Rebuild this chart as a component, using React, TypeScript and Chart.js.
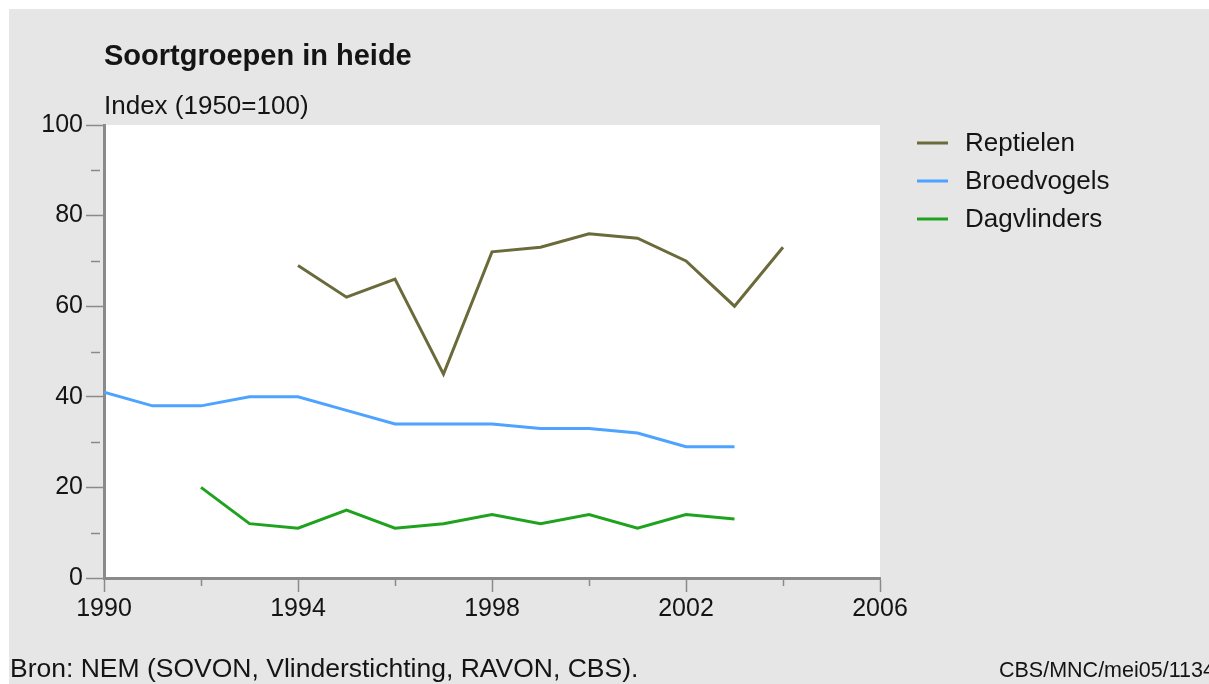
import React, { useEffect, useRef } from "react";
import { Chart, registerables } from "chart.js";

Chart.register(...registerables);

const years = [1990, 1991, 1992, 1993, 1994, 1995, 1996, 1997, 1998, 1999, 2000, 2001, 2002, 2003, 2004];
const reptielen = [null, null, null, null, 69, 62, 66, 45, 72, 73, 76, 75, 70, 60, 73];
const broedvogels = [41, 38, 38, 40, 40, 37, 34, 34, 34, 33, 33, 32, 29, 29, null];
const dagvlinders = [null, null, 20, 12, 11, 15, 11, 12, 14, 12, 14, 11, 14, 13, null];
const seriesLabels = ["Reptielen", "Broedvogels", "Dagvlinders"];
const seriesColors = ["#6b6a3b", "#4da3ff", "#1fa31f"];
const xMajorTicks = [1990, 1994, 1998, 2002, 2006];
const xMinorTicks = [1992, 1996, 2000, 2004];
const yMajorTicks = [0, 20, 40, 60, 80, 100];
const yMinorTicks = [10, 30, 50, 70, 90];

const FONT = '"Liberation Sans", Arial, Helvetica, sans-serif';
const AXIS_COLOR = "#8a8a8a";
const TEXT_COLOR = "#141414";

const toPoints = (vals: (number | null)[]) => years.map((x, i) => ({ x, y: vals[i] }));

const plotBgPlugin = {
  id: "plotBg",
  beforeDraw(chart: any) {
    const { ctx, chartArea } = chart;
    ctx.save();
    ctx.fillStyle = "#ffffff";
    ctx.fillRect(chartArea.left, chartArea.top, chartArea.right - chartArea.left, chartArea.bottom - chartArea.top);
    ctx.restore();
  },
};

const minorTicksPlugin = {
  id: "minorTicks",
  afterDraw(chart: any) {
    const { ctx, chartArea } = chart;
    const xs = chart.scales.x;
    const ys = chart.scales.y;
    ctx.save();
    ctx.strokeStyle = AXIS_COLOR;
    ctx.lineWidth = 1.5;
    ctx.beginPath();
    yMinorTicks.forEach((v) => {
      const py = Math.round(ys.getPixelForValue(v)) + 0.5;
      ctx.moveTo(chartArea.left - 13, py);
      ctx.lineTo(chartArea.left - 4, py);
    });
    xMinorTicks.forEach((v) => {
      const px = Math.round(xs.getPixelForValue(v)) + 0.5;
      ctx.moveTo(px, chartArea.bottom + 2);
      ctx.lineTo(px, chartArea.bottom + 8);
    });
    ctx.stroke();
    ctx.restore();
  },
};

const legendPlugin = {
  id: "customLegend",
  afterDraw(chart: any) {
    const { ctx } = chart;
    ctx.save();
    ctx.font = `26px ${FONT}`;
    ctx.textBaseline = "middle";
    ctx.textAlign = "left";
    chart.data.datasets.forEach((ds: any, i: number) => {
      const y = 143 + i * 38;
      ctx.strokeStyle = ds.borderColor;
      ctx.lineWidth = 3;
      ctx.beginPath();
      ctx.moveTo(917, y);
      ctx.lineTo(948, y);
      ctx.stroke();
      ctx.fillStyle = TEXT_COLOR;
      ctx.fillText(ds.label, 965, y + 1);
    });
    ctx.restore();
  },
};

export default function App() {
  const ref = useRef<HTMLCanvasElement>(null);

  useEffect(() => {
    const canvas = ref.current;
    if (!canvas) return;
    const seriesValues = [reptielen, broedvogels, dagvlinders];
    const chart = new Chart(canvas, {
      type: "line",
      data: {
        datasets: seriesLabels.map((label, i) => ({
          label,
          data: toPoints(seriesValues[i]),
          borderColor: seriesColors[i],
          backgroundColor: seriesColors[i],
          borderWidth: 3,
          pointRadius: 0,
          pointHoverRadius: 0,
          tension: 0,
          spanGaps: false,
          fill: false,
        })),
      },
      options: {
        responsive: false,
        animation: false,
        devicePixelRatio: 1,
        events: [],
        layout: { padding: { left: 0, top: 125, right: 329, bottom: 0 } },
        plugins: {
          legend: { display: false },
          title: { display: false },
          tooltip: { enabled: false },
        },
        scales: {
          x: {
            type: "linear",
            min: 1990,
            max: 2006,
            afterFit: (scale: any) => {
              scale.height = 106;
            },
            afterBuildTicks: (scale: any) => {
              scale.ticks = xMajorTicks.map((v) => ({ value: v }));
            },
            ticks: {
              autoSkip: false,
              maxRotation: 0,
              padding: 2,
              color: TEXT_COLOR,
              font: { family: FONT, size: 25 },
              callback: (v: any) => String(v),
            },
            grid: {
              display: true,
              drawOnChartArea: false,
              drawTicks: true,
              tickLength: 14,
              tickColor: AXIS_COLOR,
              tickWidth: 1.5,
            },
            border: { display: true, color: AXIS_COLOR, width: 3 },
          },
          y: {
            type: "linear",
            min: 0,
            max: 100,
            afterFit: (scale: any) => {
              scale.width = 104;
            },
            afterBuildTicks: (scale: any) => {
              scale.ticks = yMajorTicks.map((v) => ({ value: v }));
            },
            ticks: {
              autoSkip: false,
              padding: 3,
              color: TEXT_COLOR,
              font: { family: FONT, size: 25 },
              callback: (v: any) => String(v),
            },
            grid: {
              display: true,
              drawOnChartArea: false,
              drawTicks: true,
              tickLength: 18,
              tickColor: AXIS_COLOR,
              tickWidth: 1.5,
            },
            border: { display: true, color: AXIS_COLOR, width: 3 },
          },
        },
      },
      plugins: [plotBgPlugin, minorTicksPlugin, legendPlugin],
    } as any);
    return () => chart.destroy();
  }, []);

  const textBase: React.CSSProperties = {
    position: "absolute",
    whiteSpace: "nowrap",
    color: TEXT_COLOR,
    fontFamily: FONT,
  };

  return (
    <div
      style={{
        position: "absolute",
        left: 0,
        top: 0,
        width: 1209,
        height: 684,
        background: "#ffffff",
        overflow: "hidden",
      }}
    >
      <div style={{ position: "absolute", left: 9, top: 9, right: 0, bottom: 0, background: "#e6e6e6" }} />
      <canvas
        ref={ref}
        width={1209}
        height={684}
        style={{ position: "absolute", left: 0, top: 0, width: 1209, height: 684 }}
      />
      <div style={{ ...textBase, left: 104, top: 40.5, fontSize: 29, lineHeight: "29px", fontWeight: "bold" }}>
        Soortgroepen in heide
      </div>
      <div style={{ ...textBase, left: 104, top: 92, fontSize: 26, lineHeight: "26px" }}>Index (1950=100)</div>
      <div style={{ ...textBase, left: 10, top: 654.5, fontSize: 26.5, lineHeight: "26.5px" }}>
        Bron: NEM (SOVON, Vlinderstichting, RAVON, CBS).
      </div>
      <div style={{ ...textBase, left: 999, top: 660, fontSize: 21.5, lineHeight: "21.5px" }}>CBS/MNC/mei05/1134</div>
    </div>
  );
}
